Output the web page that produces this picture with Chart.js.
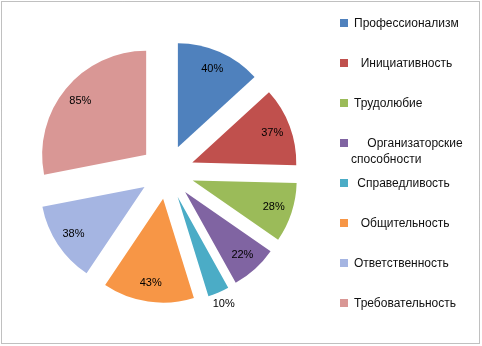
<!DOCTYPE html>
<html>
<head>
<meta charset="utf-8">
<script src="https://cdn.jsdelivr.net/npm/chart.js@4"></script>
<style>
  body { margin: 0; background: #fff; }
  canvas { display: block; }
</style>
</head>
<body>
<canvas id="myChart" width="482" height="346"></canvas>
<script>
// qualities and their scores (shown with a % sign)
const labels = ['Профессионализм', '  Инициативность', 'Трудолюбие', '    Организаторские\nспособности',
  ' Справедливость', '  Общительность', 'Ответственность', 'Требовательность'];
const values = [40, 37, 28, 22, 10, 43, 38, 85];
const colors = ['#4f81bd', '#c0504d', '#9bbb59', '#8064a2', '#4bacc6', '#f79646', '#a5b5e2', '#d99795'];

const explode = 27;
const font = '11px "Liberation Sans", Arial, sans-serif';
const legendFont = '12px "Liberation Sans", Arial, sans-serif';

// push every slice out from the centre along its middle angle
const explodePlugin = {
  id: 'explode',
  afterDatasetsUpdate(chart) {
    chart.getDatasetMeta(0).data.forEach(arc => {
      const mid = (arc.startAngle + arc.endAngle) / 2;
      arc.cx = arc.x;
      arc.cy = arc.y;
      arc.x += Math.cos(mid) * explode;
      arc.y += Math.sin(mid) * explode;
    });
  }
};

const labelPlugin = {
  id: 'valueLabels',
  afterDatasetsDraw(chart) {
    const c = chart.ctx;
    const total = values.reduce((a, b) => a + b, 0);
    c.save();
    c.font = font;
    c.fillStyle = '#000';
    c.textAlign = 'center';
    c.textBaseline = 'middle';
    chart.getDatasetMeta(0).data.forEach((arc, i) => {
      const mid = (arc.startAngle + arc.endAngle) / 2;
      let r = explode + arc.outerRadius * 0.82;
      if (values[i] / total < 0.05) r = explode + arc.outerRadius + 13;
      c.fillText(values[i] + '%', arc.cx + Math.cos(mid) * r, arc.cy + Math.sin(mid) * r);
    });
    c.restore();
  }
};

const legendPlugin = {
  id: 'sideLegend',
  afterDraw(chart) {
    const c = chart.ctx;
    c.save();
    c.font = legendFont;
    c.textBaseline = 'middle';
    labels.forEach((txt, i) => {
      const y = 23 + i * 40;
      c.fillStyle = colors[i];
      c.fillRect(340, y - 4, 8, 8);
      c.fillStyle = '#111';
      txt.split('\n').forEach((line, j) => {
        c.fillText(line, j === 0 ? 354 : 351, y + 1 + j * 16);
      });
    });
    c.restore();
  }
};

const framePlugin = {
  id: 'frame',
  afterDraw(chart) {
    const c = chart.ctx;
    c.save();
    c.strokeStyle = '#808080';
    c.lineWidth = 1;
    c.setLineDash([1, 1]);
    c.strokeRect(1.5, 1.5, 478, 342);
    c.restore();
  }
};

new Chart(document.getElementById('myChart'), {
  type: 'pie',
  data: {
    labels: labels,
    datasets: [{
      data: values,
      backgroundColor: colors,
      borderWidth: 0,
      radius: 104
    }]
  },
  options: {
    responsive: false,
    animation: false,
    devicePixelRatio: 1,
    layout: { padding: { left: 20, right: 168, top: 20, bottom: 22 } },
    plugins: {
      legend: { display: false },
      tooltip: { enabled: false }
    }
  },
  plugins: [explodePlugin, labelPlugin, legendPlugin, framePlugin]
});
</script>
</body>
</html>
